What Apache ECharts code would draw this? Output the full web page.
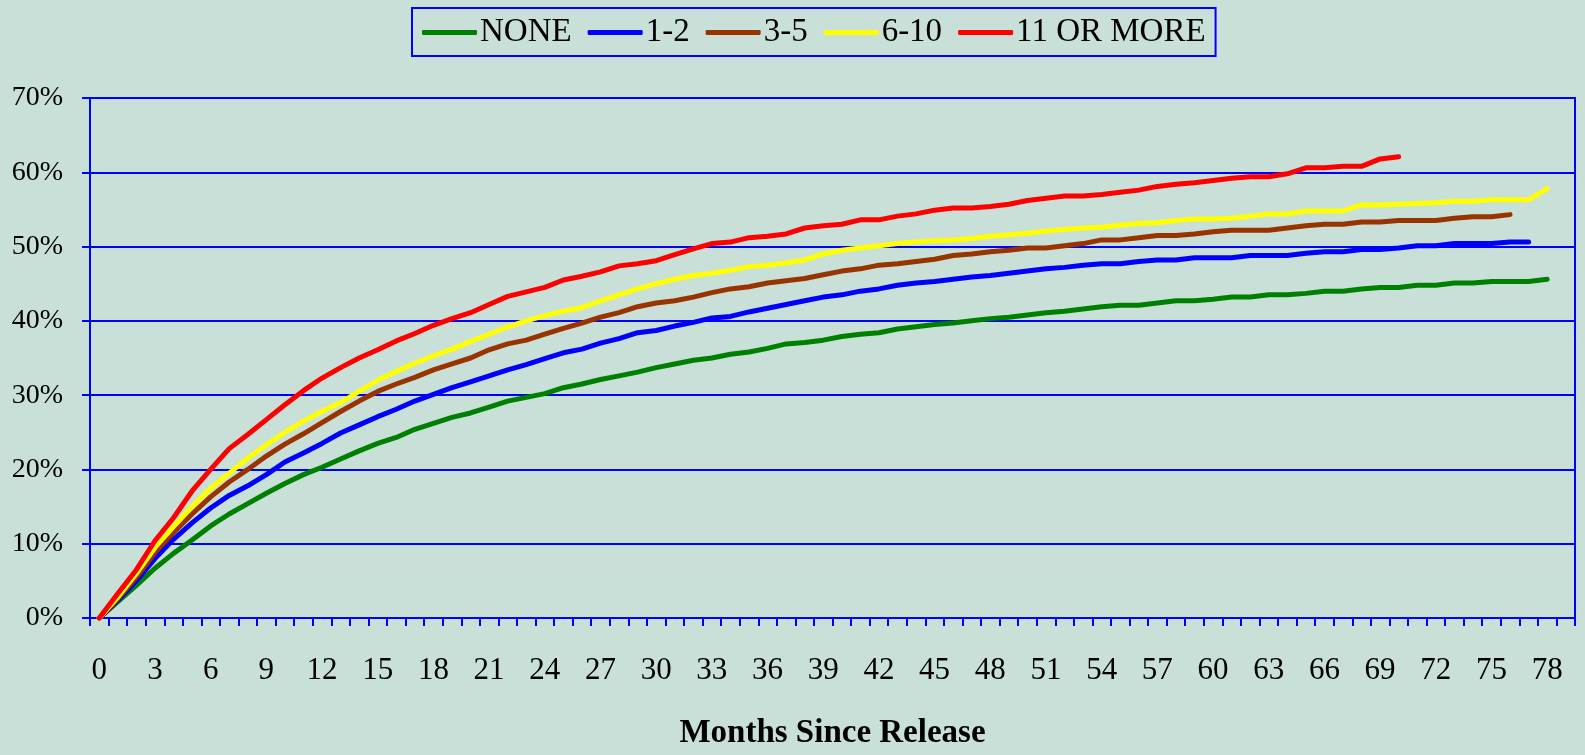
<!DOCTYPE html>
<html>
<head>
<meta charset="utf-8">
<script src="https://cdn.jsdelivr.net/npm/echarts@6/dist/echarts.min.js"></script>
<style>
html,body{margin:0;padding:0;background:#C8E0D8;}
#chart{width:1585px;height:755px;}
</style>
</head>
<body>
<div id="chart"></div>
<script>
const months = ['0','1','2','3','4','5','6','7','8','9','10','11','12','13','14','15','16','17','18','19','20','21','22','23','24','25','26','27','28','29','30','31','32','33','34','35','36','37','38','39','40','41','42','43','44','45','46','47','48','49','50','51','52','53','54','55','56','57','58','59','60','61','62','63','64','65','66','67','68','69','70','71','72','73','74','75','76','77','78','79'];
const seriesNames = ['NONE','1-2','3-5','6-10','11 OR MORE'];
const seriesColors = ['#008000','#0000FF','#993300','#FFFF00','#FF0000'];

const none = [0,2.2,4.4,6.7,8.7,10.5,12.4,14,15.4,16.8,18.1,19.3,20.3,21.4,22.5,23.5,24.3,25.4,26.2,27,27.6,28.4,29.2,29.7,30.2,31,31.5,32.1,32.6,33.1,33.7,34.2,34.7,35,35.5,35.8,36.3,36.9,37.1,37.4,37.9,38.2,38.4,38.9,39.2,39.5,39.7,40,40.3,40.5,40.8,41.1,41.3,41.6,41.9,42.1,42.1,42.4,42.7,42.7,42.9,43.2,43.2,43.5,43.5,43.7,44,44,44.3,44.5,44.5,44.8,44.8,45.1,45.1,45.3,45.3,45.3,45.6];
const oneTwo = [0,2.4,5,8,10.6,12.8,14.8,16.5,17.8,19.3,21,22.2,23.5,24.9,26,27.1,28.1,29.2,30.1,31,31.8,32.6,33.4,34.1,34.9,35.7,36.2,37,37.6,38.4,38.7,39.3,39.8,40.4,40.6,41.2,41.7,42.2,42.7,43.2,43.5,44,44.3,44.8,45.1,45.3,45.6,45.9,46.1,46.4,46.7,47,47.2,47.5,47.7,47.7,48,48.2,48.2,48.5,48.5,48.5,48.8,48.8,48.8,49.1,49.3,49.3,49.6,49.6,49.8,50.1,50.1,50.4,50.4,50.4,50.6,50.6];
const threeFive = [0,2.6,5.5,8.8,11.5,14,16.3,18.3,20,21.8,23.4,24.8,26.3,27.8,29.2,30.5,31.5,32.4,33.4,34.2,35,36.1,36.9,37.4,38.2,39,39.7,40.5,41.1,41.9,42.4,42.7,43.2,43.8,44.3,44.6,45.1,45.4,45.7,46.2,46.7,47,47.5,47.7,48,48.3,48.8,49,49.3,49.5,49.8,49.8,50.1,50.4,50.9,50.9,51.2,51.5,51.5,51.7,52,52.2,52.2,52.2,52.5,52.8,53,53,53.3,53.3,53.5,53.5,53.5,53.8,54,54,54.3];
const sixTen = [0,2.8,6,9.5,12.3,15,17.5,19.5,21.5,23.3,25,26.5,27.8,29,30.5,32,33.2,34.3,35.3,36.2,37.2,38.2,39.2,40,40.7,41.3,41.8,42.7,43.5,44.3,45,45.6,46.1,46.4,46.8,47.3,47.5,47.8,48.2,49,49.5,49.8,50.1,50.4,50.6,50.8,50.9,51.1,51.4,51.6,51.8,52.1,52.3,52.5,52.6,52.9,53.1,53.2,53.5,53.7,53.7,53.8,54.1,54.4,54.4,54.8,54.8,54.8,55.6,55.6,55.7,55.8,55.9,56.1,56.1,56.3,56.3,56.3,57.8];
const elevenPlus = [0,3.3,6.5,10.4,13.5,17.1,20,22.8,24.7,26.7,28.7,30.6,32.3,33.7,35,36.1,37.3,38.3,39.4,40.3,41.1,42.2,43.3,43.9,44.5,45.5,46,46.6,47.4,47.7,48.1,48.9,49.7,50.4,50.6,51.2,51.4,51.7,52.5,52.8,53,53.6,53.6,54.1,54.4,54.9,55.2,55.2,55.4,55.7,56.2,56.5,56.8,56.8,57,57.3,57.6,58.1,58.4,58.6,58.9,59.2,59.4,59.4,59.8,60.6,60.6,60.8,60.8,61.8,62.1];
const yTicks = [0,10,20,30,40,50,60,70];

const dataSets = [none, oneTwo, threeFive, sixTen, elevenPlus];
const FONT = '"Liberation Serif", "Times New Roman", serif';
const BLUE = '#0000FF';

const chart = echarts.init(document.getElementById('chart'));
chart.setOption({
  backgroundColor: '#C8E0D8',
  animation: false,
  legend: {
    left: 412, top: 8,
    data: seriesNames,
    icon: 'roundRect',
    itemWidth: 55, itemHeight: 5,
    itemGap: 16,
    padding: [8, 10, 7, 10],
    borderColor: BLUE, borderWidth: 2,
    textStyle: { fontFamily: FONT, fontSize: 33, color: '#000', padding: [4, 0, 0, -2] }
  },
  grid: { left: 90, right: 10, top: 98, bottom: 129, show: true, borderColor: BLUE, borderWidth: 2, backgroundColor: 'transparent' },
  xAxis: {
    type: 'category',
    data: months,
    boundaryGap: true,
    name: 'Months Since Release',
    nameLocation: 'middle',
    nameGap: 99,
    nameTextStyle: { fontFamily: FONT, fontSize: 33, fontWeight: 'bold', color: '#000' },
    axisLine: { lineStyle: { color: BLUE, width: 2 } },
    axisTick: { show: true, interval: 0, length: 8, lineStyle: { color: BLUE, width: 2 } },
    axisLabel: { interval: 2, margin: 37, fontFamily: FONT, fontSize: 31, color: '#000' },
    splitLine: { show: false }
  },
  yAxis: {
    type: 'value',
    min: yTicks[0], max: yTicks[yTicks.length - 1], interval: 10,
    axisLine: { show: true, lineStyle: { color: BLUE, width: 2 } },
    axisTick: { show: true, length: 8, lineStyle: { color: BLUE, width: 2 } },
    axisLabel: { margin: 27, fontFamily: FONT, fontSize: 28, color: '#000', formatter: '{value}%', padding: [10, 0, 0, 0] },
    splitLine: { show: true, lineStyle: { color: BLUE, width: 2 } }
  },
  series: seriesNames.map((n, i) => ({
    name: n,
    type: 'line',
    data: dataSets[i],
    showSymbol: false,
    symbol: 'none',
    color: seriesColors[i],
    lineStyle: { width: 5, color: seriesColors[i], cap: 'round', join: 'round' },
    z: 2 + i
  }))
});
</script>
</body>
</html>
